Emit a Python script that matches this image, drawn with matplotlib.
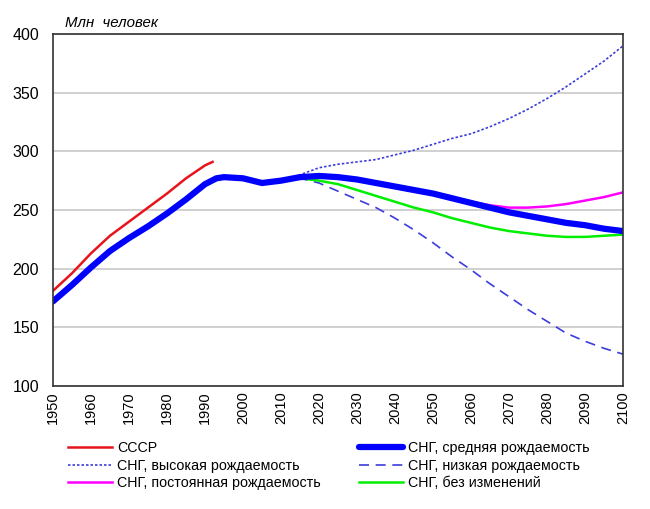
import matplotlib.pyplot as plt

plt.rcParams['font.family'] = ['Liberation Sans', 'DejaVu Sans']

# СССР
ussr_years = [1950, 1955, 1960, 1965, 1970, 1975, 1980, 1985, 1990, 1992]
ussr_vals = [181, 196, 213, 228, 240, 252, 264, 277, 288, 291]

# СНГ, средняя рождаемость (история + прогноз)
mid_years = [1950, 1955, 1960, 1965, 1970, 1975, 1980, 1985, 1990, 1993, 1995,
             2000, 2005, 2010, 2015, 2020, 2025, 2030, 2035, 2040, 2045, 2050,
             2055, 2060, 2065, 2070, 2075, 2080, 2085, 2090, 2095, 2100]
mid_vals = [172, 186, 201, 215, 226, 236, 247, 259, 272, 277, 278,
            277, 273, 275, 278, 279, 278, 276, 273, 270, 267, 264,
            260, 256, 252, 248, 245, 242, 239, 237, 234, 232]

proj_years = [2010, 2015, 2020, 2025, 2030, 2035, 2040, 2045, 2050, 2055,
              2060, 2065, 2070, 2075, 2080, 2085, 2090, 2095, 2100]
high_vals = [276, 280, 286, 289, 291, 293, 297, 301, 306, 311,
             315, 321, 328, 336, 345, 355, 366, 377, 390]
low_vals = [276, 277, 273, 266, 259, 252, 243, 233, 222, 210,
            199, 187, 176, 165, 155, 145, 138, 132, 127]

const_years = [2012, 2015, 2020, 2025, 2030, 2035, 2040, 2045, 2050, 2055,
               2060, 2065, 2070, 2075, 2080, 2085, 2090, 2095, 2100]
const_vals = [277, 278, 279, 277, 275, 272, 269, 266, 263, 260,
              257, 254, 252, 252, 253, 255, 258, 261, 265]
same_vals = [277, 277, 275, 272, 267, 262, 257, 252, 248, 243,
             239, 235, 232, 230, 228, 227, 227, 228, 229]

fig = plt.figure(figsize=(6.5, 5.09), dpi=100)
ax = fig.add_axes([0.0815, 0.242, 0.877, 0.691])

l_ussr, = ax.plot(ussr_years, ussr_vals, color='#e8141c', lw=1.8, label='СССР')
l_high, = ax.plot(proj_years, high_vals, color='#3c3cdc', lw=1.2, ls=(0, (1.5, 1.2)),
                  label='СНГ, высокая рождаемость')
l_low, = ax.plot(proj_years, low_vals, color='#3c3cdc', lw=1.2, ls=(0, (6, 4)),
                 label='СНГ, низкая рождаемость')
l_same, = ax.plot(const_years, same_vals, color='#00ee00', lw=1.8,
                  label='СНГ, без изменений')
l_const, = ax.plot(const_years, const_vals, color='#ff00ff', lw=1.8,
                   label='СНГ, постоянная рождаемость')
l_mid, = ax.plot(mid_years, mid_vals, color='#0000ff', lw=4.5,
                 solid_capstyle='round', label='СНГ, средняя рождаемость')

ax.set_xlim(1950, 2100)
ax.set_ylim(100, 400)
ax.set_xticks(range(1950, 2101, 10))
ax.set_yticks(range(100, 401, 50))
ax.tick_params(axis='x', labelrotation=90, labelsize=10.5, length=0, pad=4)
ax.tick_params(axis='y', labelsize=11.5, length=0, pad=10)
ax.grid(axis='y', color='#c8c8c8', lw=1.2)
ax.set_axisbelow(True)
for s in ax.spines.values():
    s.set_color('#333333')
    s.set_linewidth(1.2)

fig.text(0.1, 0.955, 'Млн  человек', fontsize=10.8, style='italic', va='center')

handles = [l_ussr, l_high, l_const, l_mid, l_low, l_same]
fig.legend(handles=handles, labels=[h.get_label() for h in handles], ncol=2,
           loc='lower left', bbox_to_anchor=(0.0955, 0.0255), borderaxespad=0,
           frameon=False, fontsize=10.25, handlelength=3.1, handletextpad=0.35,
           columnspacing=2.7, labelspacing=0.25)

fig.savefig('out.png', dpi=100)
